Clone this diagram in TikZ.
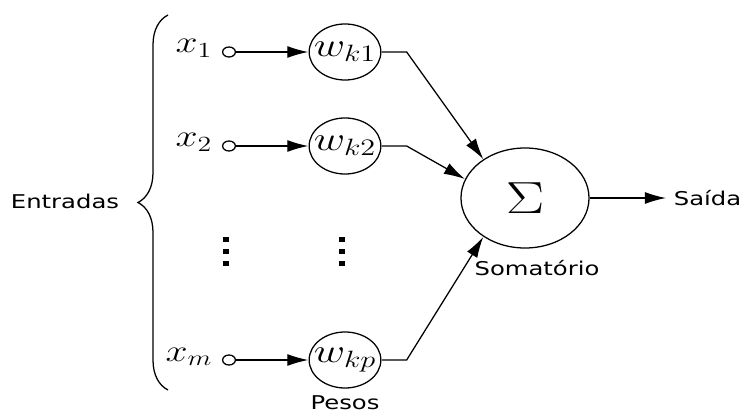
\RequirePackage{fix-cm}
\documentclass[tikz,border=0pt]{standalone}
\usepackage{fontspec}
\setsansfont{DejaVu Sans}
\usetikzlibrary{arrows.meta,decorations.pathreplacing}

\tikzset{
  wide/.style={xscale=1.28},
  inp/.style={wide,circle,draw,inner sep=0pt,minimum size=0.25cm},
  weight/.style={wide,circle,draw,inner sep=0pt,minimum size=1.4cm,font=\fontsize{24}{28}\selectfont},
  var/.style={wide,inner sep=0pt,anchor=base east,font=\fontsize{22}{26}\selectfont},
  lbl/.style={wide,inner sep=0pt,font=\sffamily\fontsize{13.5}{16}\selectfont},
  arr/.style={-{Latex[length=15pt,width=8.5pt]}}
}

\begin{document}
\begin{tikzpicture}[x=0.025cm,y=-0.025cm,line width=0.9pt]
\useasboundingbox (0,0) rectangle (740,412);
\node[wide,circle,draw,inner sep=0pt,minimum size=2.5cm,font=\fontsize{32}{36}\selectfont] (sum) at (525,198) {$\Sigma$};
\foreach \y/\i/\w/\a in {52/1/k1/130,146/2/k2/158,360/m/kp/230}{
  \node[inp] (in\i) at (229,\y) {};
  \node[var] (x\i) at (213,\y+1) {$x_\i$};
  \node[weight] (w\i) at (345,\y) {$w_{\w}$};
  \draw[arr] (in\i) -- (w\i);
  \draw[arr] (w\i.east) -- +(25,0) -- (sum.\a);
}
% vertical dots between the rows
\foreach \x in {226,342}
  \foreach \y in {239,251,263}
    \fill (\x-3,\y-2.5) rectangle +(6,5);
\coordinate (out) at (666,198);
\draw[arr] (sum) -- (out);
\node[lbl,anchor=base west] (saida) at (673,205) {Saída};
\node[lbl,anchor=base] (somat) at (537,275) {Somatório};
\node[lbl,anchor=base] (pesos) at (345,409) {Pesos};
\draw[decorate,decoration={brace,amplitude=0.75cm}] (168,390) -- (168,15)
  node[lbl,midway,anchor=base east,xshift=-0.94cm,yshift=-0.15cm] (entradas) {Entradas};
\end{tikzpicture}
\end{document}
